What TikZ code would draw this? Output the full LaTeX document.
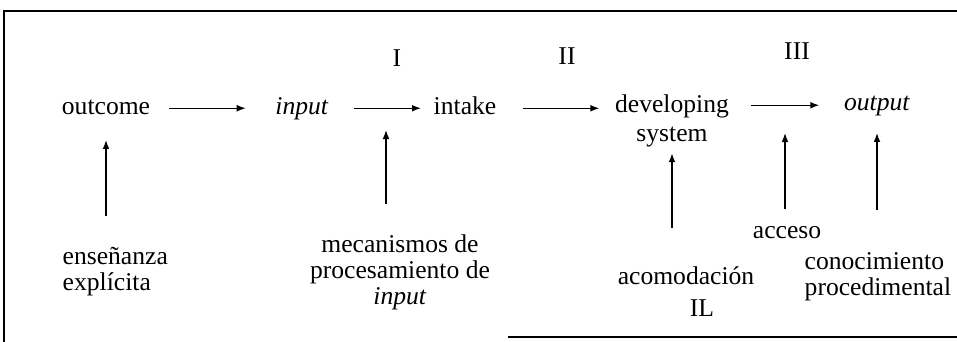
\documentclass[tikz,border=0pt]{standalone}
\usepackage{fontspec}
\setmainfont{Liberation Serif}
\usetikzlibrary{arrows.meta}
\begin{document}
\begin{tikzpicture}[x=0.5pt, y=-0.5pt, line width=0.7pt, >={Latex[length=4.5pt,width=3.4pt]},
    every node/.style={inner sep=0pt, font=\fontsize{12.8}{13}\selectfont},
    word/.style={anchor=base, text height=1.5ex, text depth=.25ex}]
        \useasboundingbox (0,0) rectangle (957,342);
        \draw (4,342) -- (4,11) -- (957,11);
        \draw (508,337) -- (957,337);
        \node (outcome) [word] at (106,114) {outcome};
        \node (input) [word] at (302,114) {\textit{input}};
        \node (intake) [word] at (465,114) {intake};
        \node (devel) [anchor=base, align=center] at (672,141) {developing\\[1.5pt]system};
        \node (output) [word] at (877,111) {\textit{output}};
        \node (stageI) [anchor=base] at (397,67) {I};
        \node (stageII) [anchor=base] at (567,65) {II};
        \node (stageIII) [anchor=base] at (797,60) {III};
        \node (expl) [anchor=base west, align=left] at (62,290) {enseñanza\\explícita};
        \node (mecan) [anchor=base, align=center] at (400,304) {mecanismos de\\procesamiento de\\\textit{input}};
        \node (acom) [anchor=base, align=center] at (686,316) {acomodación\\[3pt]\hspace*{16pt}IL};
        \node (acceso) [anchor=base] at (787,238) {acceso};
        \node (conoc) [anchor=base west, align=left] at (804,295) {conocimiento\\procedimental};
        \coordinate (procHit) at (386,107);
        \coordinate (accHit) at (785,104);
        \path[->] (outcome) edge[shorten <=9pt, shorten >=14.5pt] (input);
        \path[->] (input) edge[shorten <=12.5pt, shorten >=6pt] (intake);
        \path[->] (intake) edge[shorten <=13pt, shorten >=7.5pt] (intake -| devel.west);
        \path[->] (devel.east |- output) edge[shorten <=10.5pt, shorten >=12pt] (output);
        \path[->] (expl.north -| outcome) edge[shorten <=15pt, shorten >=11.5pt] (outcome);
        \path[->] (mecan.north -| procHit) edge[shorten <=15pt, shorten >=11.5pt] (procHit);
        \path[->] (acom.north -| devel) edge[shorten <=19pt, shorten >=3pt] (devel);
        \path[->] (acceso.north -| accHit) edge[shorten <=8pt, shorten >=14.5pt] (accHit);
        \path[->] (conoc.north -| output) edge[shorten <=20.5pt, shorten >=9.5pt] (output);
    \end{tikzpicture}
\end{document}
